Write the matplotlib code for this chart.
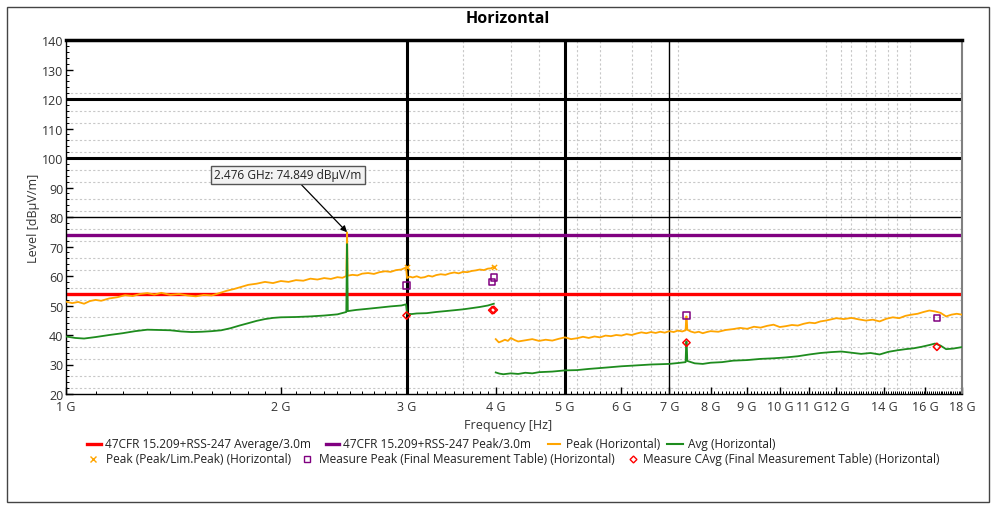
import matplotlib
matplotlib.use("Agg")
import matplotlib.pyplot as plt
from matplotlib.lines import Line2D
from matplotlib.patches import Rectangle
from matplotlib.ticker import FixedLocator, NullFormatter

plt.rcParams["font.family"] = ["Open Sans", "DejaVu Sans"]

# limits
avg_limit = 54.0
peak_limit = 74.0

# peak trace, 1-4 GHz scan (GHz / dBuV/m)
peak_lo_freq = [
    1.00, 1.02, 1.04, 1.06, 1.08, 1.10, 1.12, 1.15, 1.18, 1.21,
    1.24, 1.27, 1.30, 1.33, 1.36, 1.40, 1.44, 1.48, 1.52, 1.56,
    1.60, 1.64, 1.68, 1.72, 1.76, 1.80, 1.85, 1.90, 1.95, 2.00,
    2.05, 2.10, 2.15, 2.20, 2.25, 2.30, 2.35, 2.40, 2.44, 2.47,
    2.4755, 2.4765, 2.48, 2.52, 2.56, 2.60, 2.65, 2.70, 2.75, 2.80,
    2.85, 2.90, 2.95, 2.995,
    3.005, 3.03, 3.06, 3.10, 3.14, 3.18, 3.22, 3.26, 3.30, 3.35,
    3.40, 3.45, 3.50, 3.55, 3.60, 3.65, 3.70, 3.75, 3.80, 3.85,
    3.90, 3.94, 3.975,
]
peak_lo = [
    51.3, 50.8, 51.2, 50.6, 51.5, 51.9, 51.6, 52.4, 52.8, 53.5,
    53.2, 53.9, 54.2, 53.7, 54.3, 53.6, 53.9, 53.4, 53.1, 53.6,
    53.4, 54.2, 55.0, 55.6, 56.3, 57.0, 57.4, 58.0, 57.6, 58.3,
    58.0, 58.6, 58.4, 59.1, 58.8, 59.3, 59.0, 59.6, 59.4, 60.0,
    74.8, 74.8, 60.1, 60.4, 60.2, 60.8, 61.0, 60.7, 61.3, 61.6,
    61.4, 62.0, 62.2, 62.9,
    59.3, 59.8, 59.5, 59.9, 59.4, 59.6, 60.1, 59.8, 60.3, 60.6,
    60.4, 60.9, 61.2, 60.9, 61.4, 61.3, 61.7, 61.9, 62.2, 62.0,
    62.5, 62.6, 63.2,
]

# average trace, 1-4 GHz scan
avg_lo_freq = [
    1.00, 1.03, 1.06, 1.10, 1.15, 1.20, 1.25, 1.30, 1.35, 1.40,
    1.45, 1.50, 1.55, 1.60, 1.65, 1.70, 1.75, 1.80, 1.85, 1.90,
    1.95, 2.00, 2.10, 2.20, 2.30, 2.40, 2.47, 2.4755, 2.4765, 2.482,
    2.55, 2.65, 2.75, 2.85, 2.95, 2.995,
    3.005, 3.05, 3.10, 3.20, 3.30, 3.40, 3.50, 3.60, 3.70, 3.80,
    3.90, 3.975,
]
avg_lo = [
    39.5, 39.0, 38.8, 39.3, 40.0, 40.6, 41.3, 41.8, 41.7, 41.6,
    41.2, 41.0, 41.1, 41.3, 41.6, 42.3, 43.2, 44.0, 44.8, 45.4,
    45.8, 46.0, 46.1, 46.3, 46.6, 47.0, 47.8, 70.8, 70.8, 48.1,
    48.5, 48.9, 49.3, 49.7, 50.0, 50.4,
    47.2, 47.1, 47.3, 47.4, 47.8, 48.1, 48.4, 48.7, 49.1, 49.5,
    50.0, 50.6,
]

# peak trace, 4-18 GHz scan
peak_hi_freq = [
    4.00, 4.04, 4.08, 4.12, 4.16, 4.20, 4.25, 4.30, 4.40, 4.50,
    4.60, 4.70, 4.80, 4.90, 5.00, 5.10, 5.20, 5.30, 5.40, 5.50,
    5.60, 5.70, 5.80, 5.90, 6.00, 6.10, 6.20, 6.30, 6.40, 6.50,
    6.60, 6.70, 6.80, 6.90, 7.00, 7.10, 7.20, 7.30, 7.38, 7.395,
    7.405, 7.42, 7.50, 7.60, 7.70, 7.80, 7.90, 8.00, 8.20, 8.40,
    8.60, 8.80, 9.00, 9.20, 9.40, 9.60, 9.80, 10.0, 10.2, 10.4,
    10.6, 10.8, 11.0, 11.2, 11.4, 11.6, 11.8, 12.0, 12.3, 12.6,
    12.9, 13.2, 13.5, 13.8, 14.1, 14.4, 14.7, 15.0, 15.3, 15.6,
    15.9, 16.2, 16.5, 16.8, 17.1, 17.4, 17.7, 18.0,
]
peak_hi = [
    38.6, 37.5, 37.9, 38.4, 38.0, 39.0, 38.3, 37.8, 38.2, 38.6,
    38.0, 38.4, 38.1, 38.7, 39.2, 38.6, 38.9, 39.4, 39.0, 39.5,
    39.2, 39.8, 39.6, 40.0, 39.8, 40.3, 40.0, 40.5, 40.9, 40.6,
    41.0, 40.7, 41.1, 40.8, 41.3, 41.0, 41.5, 41.2, 41.6, 46.3,
    46.3, 41.8, 41.2, 40.8, 41.1, 40.6, 41.0, 41.3, 41.1, 41.7,
    42.0, 42.4, 42.1, 42.8, 42.5, 43.1, 43.5, 42.7, 43.0, 43.4,
    43.2, 43.8, 44.2, 44.0, 44.6, 44.9, 45.3, 45.7, 45.4, 45.8,
    45.3, 44.9, 45.2, 44.6, 45.5, 46.0, 45.7, 46.5, 46.9, 47.2,
    47.8, 48.3, 48.0, 47.5, 46.3, 46.9, 47.2, 46.9,
]

# average trace, 4-18 GHz scan
avg_hi_freq = [
    4.00, 4.05, 4.10, 4.20, 4.30, 4.40, 4.50, 4.60, 4.80, 5.00,
    5.20, 5.40, 5.60, 5.80, 6.00, 6.20, 6.40, 6.60, 6.80, 7.00,
    7.20, 7.38, 7.395, 7.405, 7.42, 7.60, 7.80, 8.00, 8.30, 8.60,
    9.00, 9.40, 9.80, 10.2, 10.6, 11.0, 11.4, 11.8, 12.2, 12.6,
    13.0, 13.4, 13.8, 14.2, 14.6, 15.0, 15.4, 15.8, 16.2, 16.5,
    16.8, 17.1, 17.5, 18.0,
]
avg_hi = [
    27.3, 26.9, 26.7, 27.0, 26.8, 27.2, 27.0, 27.4, 27.6, 28.0,
    28.1, 28.5, 28.8, 29.1, 29.4, 29.6, 29.8, 30.0, 30.1, 30.2,
    30.5, 30.8, 37.8, 37.8, 31.2, 30.4, 30.2, 30.6, 30.8, 31.3,
    31.5, 31.9, 32.1, 32.4, 32.8, 33.4, 33.9, 34.2, 34.4, 34.0,
    33.6, 33.9, 33.4, 34.3, 34.8, 35.2, 35.5, 36.0, 36.6, 37.1,
    36.4, 35.2, 35.4, 35.9,
]

# markers
pk_lim_freq = [3.0, 3.975]
pk_lim = [63.0, 63.2]
meas_peak_freq = [3.0, 3.955, 3.98, 7.4, 16.6]
meas_peak = [56.8, 58.0, 59.5, 46.6, 45.8]
meas_cavg_freq = [3.0, 3.955, 3.975, 7.4, 16.6]
meas_cavg = [46.6, 48.4, 48.5, 37.4, 36.0]

marker_freq = 2.476
marker_level = 74.849

# axis ticks
xtick_vals = [1, 2, 3, 4, 5, 6, 7, 8, 9, 10, 11, 12, 14, 16, 18]
xtick_labels = [f"{v} G" for v in xtick_vals]
minor_h = [22, 26, 32, 36, 42, 46, 52, 56, 62, 66, 72, 76, 82, 86, 92, 96,
           102, 106, 112, 116, 122]
minor_v = [3.6, 4.2, 4.6, 5.2, 5.6, 6.2, 6.6, 7.2, 11.6, 12.2, 12.6, 13.2,
           13.6, 14.2, 14.6, 15.2]

ORANGE = "#ffa500"
GREEN = "#1e8c1e"
RED = "#ff0000"
PURPLE = "#800080"

W, H = 998, 506
fig = plt.figure(figsize=(W / 100, H / 100), dpi=100)
ax = fig.add_axes([66 / W, 1 - 395 / H, (962 - 66) / W, (395 - 41) / H])

ax.set_xscale("log")
ax.set_xlim(1, 18)
ax.set_ylim(20, 140)

# grid
for v in minor_h:
    ax.axhline(v, color="#c8c8c8", lw=0.8, ls=(0, (2, 2)), zorder=0)
for v in minor_v:
    ax.axvline(v, color="#c8c8c8", lw=0.8, ls=(0, (2, 2)), zorder=0)
for v in [100, 120]:
    ax.axhline(v, color="black", lw=2.2, zorder=1)
ax.axhline(80, color="black", lw=1.0, zorder=1)
for v in [3, 5]:
    ax.axvline(v, color="black", lw=2.2, zorder=1)
ax.axvline(7, color="black", lw=1.0, zorder=1)

# limits
ax.axhline(avg_limit, color=RED, lw=2.4, zorder=2)
ax.axhline(peak_limit, color=PURPLE, lw=2.4, zorder=2)

# traces
ax.plot(peak_lo_freq, peak_lo, color=ORANGE, lw=1.3, zorder=3)
ax.plot(peak_hi_freq, peak_hi, color=ORANGE, lw=1.3, zorder=3)
ax.plot(avg_lo_freq, avg_lo, color=GREEN, lw=1.3, zorder=4)
ax.plot(avg_hi_freq, avg_hi, color=GREEN, lw=1.3, zorder=4)

ax.scatter(pk_lim_freq, pk_lim, marker="x", color=ORANGE, s=14, lw=1, zorder=5)
ax.scatter(meas_peak_freq, meas_peak, marker="s", facecolor="none",
           edgecolor=PURPLE, s=22, lw=1.1, zorder=6)
ax.scatter(meas_cavg_freq, meas_cavg, marker="D", facecolor="none",
           edgecolor=RED, s=14, lw=1.1, zorder=6)

ax.annotate(f"{marker_freq:.3f} GHz: {marker_level:.3f} dBµV/m",
            xy=(marker_freq, marker_level), xytext=(288, H - 176),
            textcoords="figure pixels", ha="center", va="center",
            fontsize=8.6, color="#222222",
            bbox=dict(boxstyle="square,pad=0.25", fc="#f2f2f2", ec="#555555", lw=1),
            arrowprops=dict(arrowstyle="-|>", color="black", lw=0.9,
                            mutation_scale=9, relpos=(0.57, 0.0),
                            shrinkA=0, shrinkB=0),
            zorder=7)

# ticks
ax.xaxis.set_major_locator(FixedLocator(xtick_vals))
ax.set_xticklabels(xtick_labels)
ax.xaxis.set_minor_locator(FixedLocator([x / 10 for x in range(10, 181)]))
ax.xaxis.set_minor_formatter(NullFormatter())
ax.set_yticks(range(20, 141, 10))
ax.set_yticks(range(20, 141, 2), minor=True)
ax.tick_params(which="both", direction="in", colors="black", labelcolor="#333333",
               labelsize=9)
ax.tick_params(which="major", length=5, width=1)
ax.tick_params(which="minor", length=2.5, width=0.7)
ax.tick_params(axis="x", pad=4)
ax.tick_params(axis="y", pad=2)

for s in ["left", "bottom"]:
    ax.spines[s].set_color("black")
    ax.spines[s].set_linewidth(1)
ax.spines["top"].set_linewidth(2.5)
ax.spines["right"].set_color("#808080")
ax.spines["right"].set_linewidth(1.5)

ax.set_ylabel("Level [dBµV/m]", fontsize=9, color="#333333")
ax.yaxis.set_label_coords((40 - 66) / (962 - 66), 0.5)
fig.text(508 / W, 1 - 425 / H, "Frequency [Hz]", fontsize=9, color="#333333",
         ha="center", va="center")
fig.text(508 / W, 1 - 19 / H, "Horizontal", fontsize=11.5, fontweight="bold",
         ha="center", va="center")

# legend, drawn by hand to match the layout
def legend_line(x0, x1, y, color, text, tx):
    yf = 1 - y / H
    fig.add_artist(Line2D([x0 / W, x1 / W], [yf, yf], color=color, lw=2.4
                          if color in (RED, PURPLE) else 1.5,
                          transform=fig.transFigure))
    fig.text(tx / W, yf, text, fontsize=8.6, color="#222222", ha="left", va="center")


def legend_marker(x, y, marker, color, text, tx, size):
    yf = 1 - y / H
    face = color if marker == "x" else "none"
    fig.add_artist(Line2D([x / W], [yf], marker=marker, ls="none", markersize=size,
                          markerfacecolor=face, markeredgecolor=color,
                          markeredgewidth=1, transform=fig.transFigure))
    fig.text(tx / W, yf, text, fontsize=8.6, color="#222222", ha="left", va="center")


legend_line(87, 101, 445, RED, "47CFR 15.209+RSS-247 Average/3.0m", 105)
legend_line(326, 339, 445, PURPLE, "47CFR 15.209+RSS-247 Peak/3.0m", 343)
legend_line(548, 560, 445, ORANGE, "Peak (Horizontal)", 566)
legend_line(667, 683, 445, GREEN, "Avg (Horizontal)", 688)
legend_marker(93, 460, "x", ORANGE, "Peak (Peak/Lim.Peak) (Horizontal)", 106, 4)
legend_marker(307, 460, "s", PURPLE,
              "Measure Peak (Final Measurement Table) (Horizontal)", 319, 4)
legend_marker(633, 460, "D", RED,
              "Measure CAvg (Final Measurement Table) (Horizontal)", 643, 3.5)

fig.add_artist(Rectangle((7 / W, 1 - 503 / H), (989 - 7) / W, (503 - 8) / H,
                         fill=False, edgecolor="#444444", lw=1,
                         transform=fig.transFigure))

fig.savefig("out.png", dpi=100)
